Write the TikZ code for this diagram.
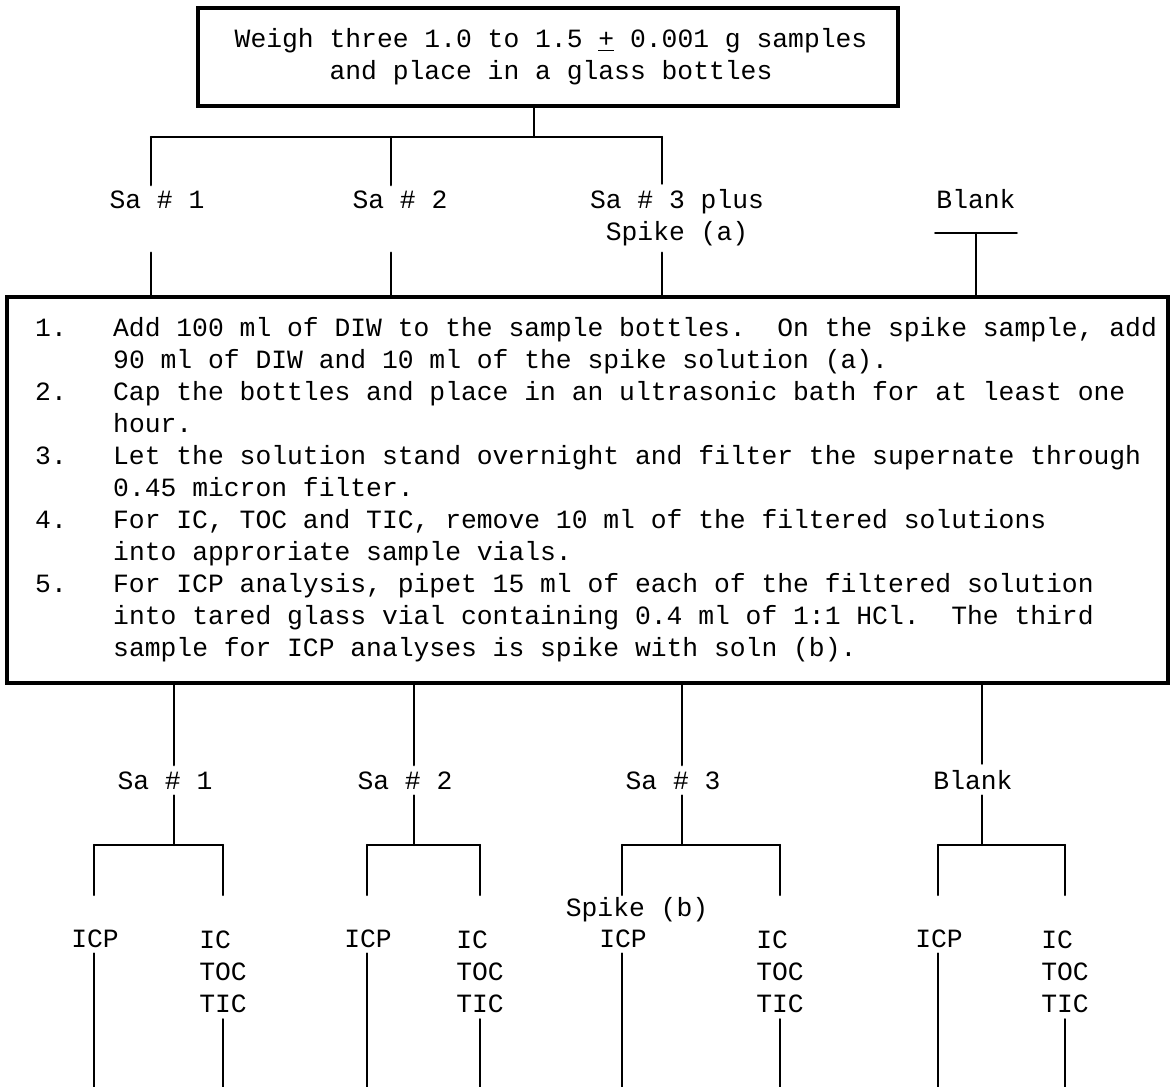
\documentclass[tikz,border=0pt]{standalone}
\usepackage{fontspec}
\setmonofont{Liberation Mono}
\usepackage{tikz}

\begin{document}
\begin{tikzpicture}[x=0.02cm,y=-0.02cm,font=\ttfamily\fontsize{15}{18.2}\selectfont,line width=1.4pt,line cap=round,
  lbl/.style={inner xsep=0pt,inner ysep=0.1cm,anchor=base},
  box/.style={draw,line width=2pt,inner sep=0pt}]
\useasboundingbox (0,0) rectangle (1173,1087);
\node[box,minimum width=14cm,minimum height=1.96cm,align=center] (weigh) at (548,57)
  {\hspace{0.12cm}Weigh three 1.0 to 1.5 \underline{+} 0.001 g samples\\\hspace{0.12cm}and place in a glass bottles};
\coordinate (split) at (534,137);
\coordinate (a1) at (151,137);
\coordinate (a2) at (391,137);
\coordinate (a3) at (662,137);
\coordinate (bb) at (976,233);
\node[lbl] (sa1) at (157,209) {Sa \# 1};
\node[lbl] (sa2) at (400,209) {Sa \# 2};
\node[lbl] (sa3) at (677,209) {Sa \# 3 plus};
\node[lbl] (spa) at (677,241) {Spike (a)};
\node[lbl] (blank) at (976,209) {Blank};
\node[box,minimum width=23.22cm,minimum height=7.72cm] (steps) at (587.5,490) {};
\node[inner sep=0pt,anchor=base west] (stepstext) at (34,337) {\begin{tabular}[t]{@{}p{1.56cm}@{}l@{}}
1. & Add 100 ml of DIW to the sample bottles.\ \ On the spike sample, add\\
   & 90 ml of DIW and 10 ml of the spike solution (a).\\
2. & Cap the bottles and place in an ultrasonic bath for at least one\\
   & hour.\\
3. & Let the solution stand overnight and filter the supernate through\\
   & 0.45 micron filter.\\
4. & For IC, TOC and TIC, remove 10 ml of the filtered solutions\\
   & into approriate sample vials.\\
5. & For ICP analysis, pipet 15 ml of each of the filtered solution\\
   & into tared glass vial containing 0.4 ml of 1:1 HCl.\ \ The third\\
   & sample for ICP analyses is spike with soln (b).
\end{tabular}};
\draw (split |- weigh.south) -- (split);
\draw (a1) -- (a3);
\draw (a1) -- (a1 |- sa1.north);
\draw (a2) -- (a2 |- sa2.north);
\draw (a3) -- (a3 |- sa3.north);
\draw (a1 |- spa.south) -- (a1 |- steps.north);
\draw (a2 |- spa.south) -- (a2 |- steps.north);
\draw (a3 |- spa.south) -- (a3 |- steps.north);
\draw (blank.west |- bb) -- (blank.east |- bb);
\draw (bb) -- (bb |- steps.north);
% second level
\coordinate (lv) at (0,895);
\coordinate (bot) at (0,1087);
\node[lbl] (spb) at (637,916) {Spike (b)};
\foreach \i/\b/\l/\r/\t in {1/174/94/223/{Sa \# 1},2/414/367/480/{Sa \# 2},3/682/622/780/{Sa \# 3},4/982/938/1065/{Blank}}{
  \coordinate (b\i) at (\b,845);
  \coordinate (l\i) at (\l,845);
  \coordinate (r\i) at (\r,845);
  \node[lbl] (sb\i) at (\b-9,789) {\t};
  \node[lbl] (icp\i) at (\l+1,947) {ICP};
  \node[lbl,anchor=north,align=left] (tests\i) at (\r,925) {IC\\TOC\\TIC};
  \draw (b\i |- steps.south) -- (b\i |- sb\i.north);
  \draw (b\i |- sb\i.south) -- (b\i);
  \draw (l\i) -- (r\i);
  \draw (l\i) -- (l\i |- lv);
  \draw (r\i) -- (r\i |- lv);
  \draw (l\i |- icp\i.south) -- (l\i |- bot);
  \draw (r\i |- tests\i.south) -- (r\i |- bot);
}
\end{tikzpicture}
\end{document}
